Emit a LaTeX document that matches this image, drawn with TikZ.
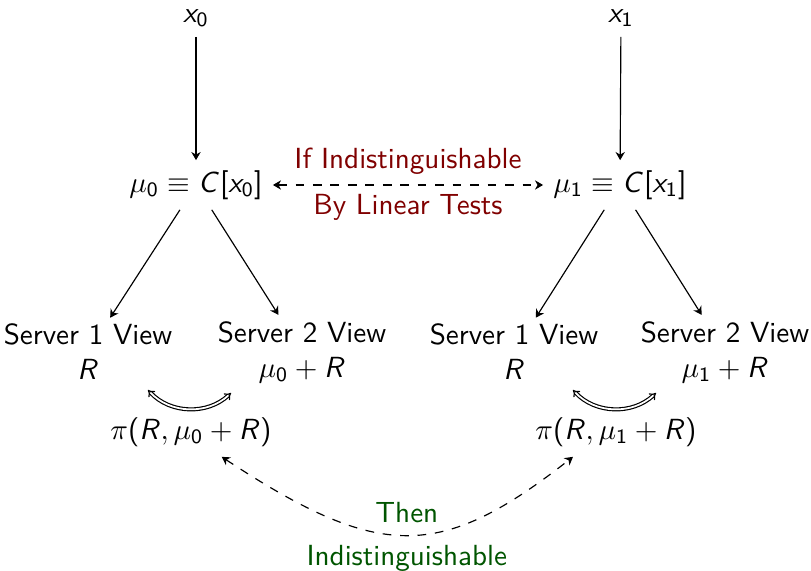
\documentclass[tikz,border=0pt]{standalone}
\usetikzlibrary{arrows.meta}
\renewcommand{\familydefault}{\sfdefault}
% sans-serif math letters and digits, serif Greek
\DeclareSymbolFont{sfitalic}{OT1}{cmss}{m}{sl}
\SetSymbolFont{operators}{normal}{OT1}{cmss}{m}{n}
\DeclareMathSymbol{x}{\mathalpha}{sfitalic}{`x}
\DeclareMathSymbol{C}{\mathalpha}{sfitalic}{`C}
\DeclareMathSymbol{R}{\mathalpha}{sfitalic}{`R}
\definecolor{condred}{RGB}{128,0,0}
\definecolor{thengreen}{RGB}{0,85,0}
\begin{document}
\begin{tikzpicture}[x=0.3436pt,y=-0.3436pt,
  >={Stealth[length=2.8pt, width=3.2pt, inset=0.9pt]},
  lbl/.style={inner sep=0.3333em},
  tag/.style={inner sep=2pt},
  view/.style={align=center, inner sep=2pt},
  flow/.style={->},
  link/.style={<->, dashed},
  swap/.style={double, {Implies[scale=1.1]}-{Implies[scale=1.1]}}]
\useasboundingbox (0,0) rectangle (811,571);

\node[lbl] (x0) at (196,18) {$x_0$};
\node[lbl] (x1) at (621,18) {$x_1$};
\node[lbl] (mu0) at (196,185) {$\mu_0 \equiv C[x_0]$};
\node[lbl] (mu1) at (620,185) {$\mu_1 \equiv C[x_1]$};

\node[view] (s1) at (88,352) {Server 1 View\\$R$};
\node[view] (s2) at (302,352) {Server 2 View\\$\mu_0 + R$};
\node[view] (s3) at (514,352) {Server 1 View\\$R$};
\node[view] (s4) at (725,352) {Server 2 View\\$\mu_1 + R$};

\node[lbl] (p0) at (191,432) {$\pi(R, \mu_0 + R)$};
\node[lbl] (p1) at (616,432) {$\pi(R, \mu_1 + R)$};

\draw[flow] (x0) -- (mu0);
\draw[flow] (x1) -- (mu1);
\draw[flow] (mu0) -- (s1);
\draw[flow] (mu0) -- (s2);
\draw[flow] (mu1) -- (s3);
\draw[flow] (mu1) -- (s4);

\draw[link] (mu0) -- node[tag, above=1.5pt, text=condred] {If Indistinguishable}
  node[tag, below=1pt, text=condred] {By Linear Tests} (mu1);

% swaps between the two server views
\coordinate (a0) at (148,390);
\coordinate (b0) at (231,393);
\coordinate (a1) at (573,390);
\coordinate (b1) at (656,393);
\draw[swap] (a0) to[bend right=45] (b0);
\draw[swap] (a1) to[bend right=45] (b1);

\draw[link] (p0.-39) .. controls (380,561) and (440,561) .. (p1.-150)
  node[pos=0.5, tag, above=1.8pt, text=thengreen] {Then}
  node[pos=0.5, tag, below=1.2pt, text=thengreen] {Indistinguishable};
\end{tikzpicture}
\end{document}
